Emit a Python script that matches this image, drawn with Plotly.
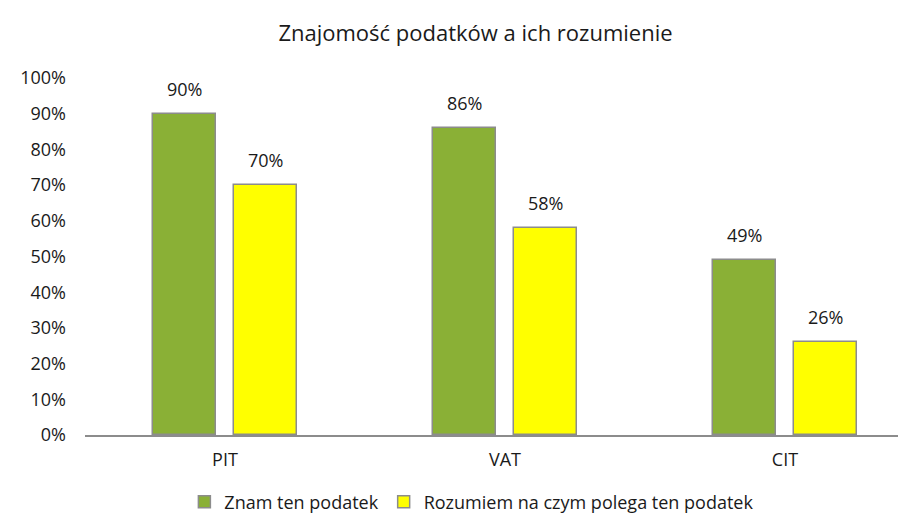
import plotly.graph_objects as go

categories = ["PIT", "VAT", "CIT"]
znam = [0.90, 0.86, 0.49]
rozumiem = [0.70, 0.58, 0.26]
series_names = ["Znam ten podatek", "Rozumiem na czym polega ten podatek"]
y_ticks = [0, 0.1, 0.2, 0.3, 0.4, 0.5, 0.6, 0.7, 0.8, 0.9, 1.0]

FONT = "Open Sans"
TXT = "#1a1a1a"
BAR_W = 0.225
OFF_G = -0.2554
OFF_Y = 0.0304

fig = go.Figure()
fig.add_trace(go.Bar(
    x=categories, y=znam, name=series_names[0],
    marker=dict(color="#8AB036", line=dict(color="#8C8C8C", width=1.5)),
    width=BAR_W, offset=OFF_G,
))
fig.add_trace(go.Bar(
    x=categories, y=rozumiem, name=series_names[1],
    marker=dict(color="#FFFF00", line=dict(color="#8C8C8C", width=1.5)),
    width=BAR_W, offset=OFF_Y,
))

annotations = []
for i, (a, b) in enumerate(zip(znam, rozumiem)):
    for val, off in ((a, OFF_G), (b, OFF_Y)):
        annotations.append(dict(
            x=i + off + BAR_W / 2, y=val, xref="x", yref="y",
            text=f"{val:.0%}", showarrow=False, yshift=25, yanchor="middle",
            font=dict(size=18, color=TXT, family=FONT),
        ))

fig.update_layout(
    width=906, height=515,
    paper_bgcolor="white", plot_bgcolor="white",
    margin=dict(l=77, r=3, t=70, b=88, autoexpand=False),
    title=dict(text="Znajomość podatków a ich rozumienie", x=0.516, xanchor="center",
               y=1 - 25 / 515, yanchor="middle", font=dict(size=22, color=TXT, family=FONT)),
    font=dict(family=FONT, size=18, color=TXT),
    showlegend=True,
    legend=dict(orientation="h", x=0.512, xanchor="center", xref="container",
                y=1 - 494 / 515, yanchor="middle", yref="container",
                font=dict(size=18, color=TXT, family=FONT), itemwidth=30,
                tracegroupgap=0),
    bargap=0, barmode="group",
    annotations=annotations,
)
fig.update_xaxes(range=[-0.5, 2.45], showline=True, linecolor="#8C8C8C", linewidth=1.5,
                 ticks="", showgrid=False, tickfont=dict(size=18, color=TXT), ticklabelstandoff=8,
                 automargin=False)
fig.update_yaxes(range=[0, 1.0], tickvals=y_ticks, tickformat=".0%", showgrid=False,
                 showline=False, zeroline=False, ticks="", tickfont=dict(size=18, color=TXT),
                 ticklabelstandoff=18, automargin=False)
fig.write_html("out.html")
